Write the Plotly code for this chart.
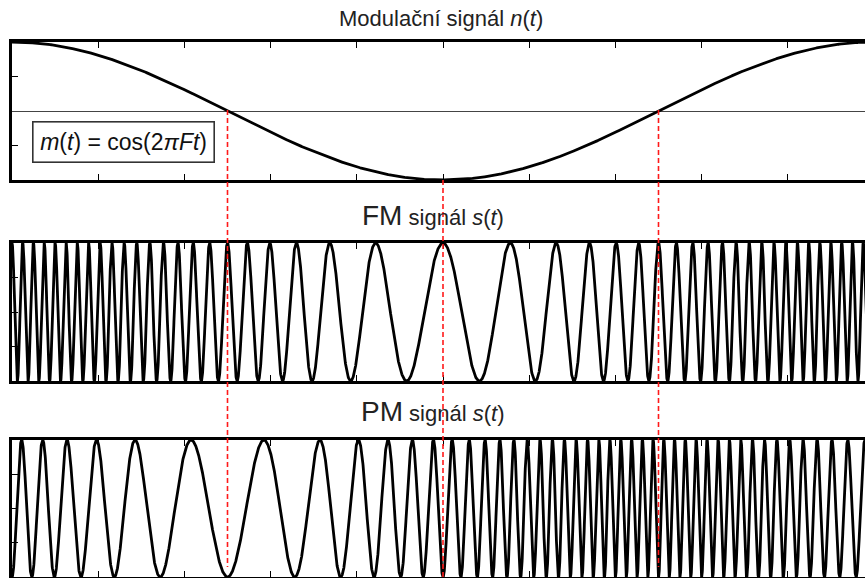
import numpy as np
import plotly.graph_objects as go
from plotly.subplots import make_subplots

# ---- signal parameters ----
MOD_FREQ = 1.0            # one period of m(t) over the shown time span
CARRIER_CYCLES = 46       # carrier cycles over the shown time span
DEVIATION = 11 * np.pi    # frequency / phase deviation index
N_SAMPLES = 6000
T_START, T_END = 0.0, 1.0
MARKER_TIMES = [0.25, 0.5, 0.75]

TITLE_TOP = "Modulační signál <i>n</i>(<i>t</i>)"
TITLE_FM_BIG, TITLE_FM_SMALL = "FM", "signál <i>s</i>(<i>t</i>)"
TITLE_PM_BIG, TITLE_PM_SMALL = "PM", "signál <i>s</i>(<i>t</i>)"
LEGEND_TEXT = "<i>m</i>(<i>t</i>) = cos(2<i>πFt</i>)"

t = np.linspace(T_START, T_END, N_SAMPLES)
m = np.cos(2 * np.pi * MOD_FREQ * t)
s_fm = np.cos(2 * np.pi * CARRIER_CYCLES * t + DEVIATION * np.sin(2 * np.pi * MOD_FREQ * t))
s_pm = np.cos(2 * np.pi * CARRIER_CYCLES * t + DEVIATION * np.cos(2 * np.pi * MOD_FREQ * t))

W, H = 865, 578
def py(p):
    return 1 - p / H

fig = make_subplots(rows=3, cols=1)
line = dict(color="black", width=2.8)
fig.add_trace(go.Scatter(x=t, y=m, mode="lines", line=line, hoverinfo="skip"), row=1, col=1)
fig.add_trace(go.Scatter(x=t, y=s_fm, mode="lines", line=line, hoverinfo="skip"), row=2, col=1)
fig.add_trace(go.Scatter(x=t, y=s_pm, mode="lines", line=line, hoverinfo="skip"), row=3, col=1)

x_left = 12
x_hi = (W - x_left) / 862.0
domains = [(py(180), py(42)), (py(381), py(243)), (py(577), py(440))]
for i, (d0, d1) in enumerate(domains, start=1):
    xa = "xaxis" if i == 1 else f"xaxis{i}"
    ya = "yaxis" if i == 1 else f"yaxis{i}"
    fig.layout[xa].update(domain=[x_left / W, 1.0], range=[0, x_hi], showgrid=False,
                          zeroline=False, showline=True, linecolor="black", linewidth=2.8,
                          mirror="ticks", ticks="inside", ticklen=6, tickwidth=1.3,
                          tickcolor="black", dtick=0.1, tick0=0, showticklabels=False)
    fig.layout[ya].update(domain=[d0, d1], range=[-1, 1], showgrid=False,
                          zeroline=(i == 1), zerolinecolor="#444", zerolinewidth=1.3,
                          showline=True, linecolor="black", linewidth=2.8, mirror=False,
                          ticks="inside", ticklen=6, tickwidth=1.3, tickcolor="black",
                          tickvals=[-0.5, 0.5] if i == 1 else [-0.5, 0, 0.5],
                          showticklabels=False)

# red dashed marker lines
marker_spans = {0.25: (110, 567), 0.5: (180, 578), 0.75: (110, 567)}
for tm in MARKER_TIMES:
    a, b = marker_spans[tm]
    fig.add_shape(type="line", xref="x", yref="paper", x0=tm, x1=tm, y0=py(a), y1=py(b),
                  line=dict(color="#ff1a1a", width=1.6, dash="5px,3px"), layer="above")

font = "Liberation Sans, Arial, sans-serif"
common = dict(xref="paper", yref="paper", showarrow=False, xanchor="center", yanchor="middle")
fig.add_annotation(x=441 / W, y=py(19), text=TITLE_TOP,
                   font=dict(family=font, size=22, color="#222"), **common)
fig.add_annotation(x=433 / W, y=py(216),
                   text=f"<span style='font-size:28px'>{TITLE_FM_BIG}</span> {TITLE_FM_SMALL}",
                   font=dict(family=font, size=22, color="#222"), **common)
fig.add_annotation(x=433 / W, y=py(411),
                   text=f"<span style='font-size:28px'>{TITLE_PM_BIG}</span> {TITLE_PM_SMALL}",
                   font=dict(family=font, size=22, color="#222"), **common)
fig.add_annotation(x=123 / W, y=py(142.5), text=LEGEND_TEXT,
                   font=dict(family=font, size=23, color="#111"),
                   width=178, height=37, borderpad=1, bordercolor="#333", borderwidth=1.6,
                   bgcolor="white", **common)

fig.update_layout(width=W, height=H, margin=dict(l=0, r=0, t=0, b=0),
                  paper_bgcolor="white", plot_bgcolor="white", showlegend=False)
fig.write_html("out.html", config={"displayModeBar": False},
               post_script="document.body.style.margin='0';document.body.style.overflow='hidden';")
